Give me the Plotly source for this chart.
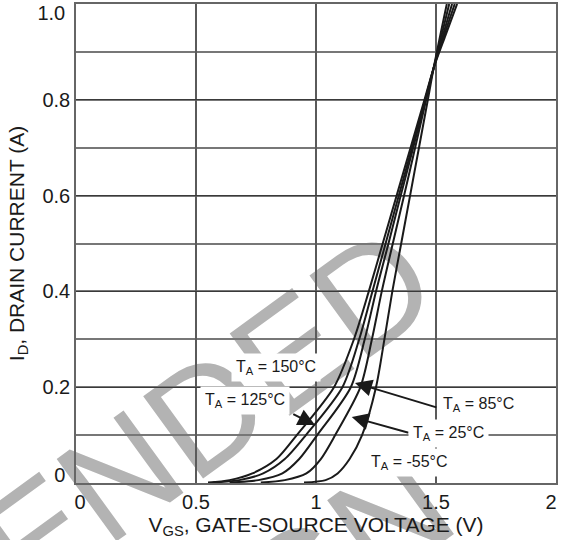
import plotly.graph_objects as go

# Transfer characteristics: drain current vs gate-source voltage at five ambient temperatures
vgs_150 = [0.55, 0.64, 0.735, 0.835, 0.92, 1.075, 1.158, 1.22, 1.278, 1.336, 1.394, 1.452, 1.49, 1.54, 1.588]
id_150 = [0.001, 0.006, 0.02, 0.05, 0.1, 0.2, 0.3, 0.4, 0.5, 0.6, 0.7, 0.8, 0.866, 0.935, 1.0]

vgs_125 = [0.57, 0.68, 0.78, 0.87, 0.958, 1.11, 1.18, 1.235, 1.29, 1.345, 1.4, 1.455, 1.49, 1.578]
id_125 = [0.001, 0.006, 0.02, 0.05, 0.1, 0.2, 0.3, 0.4, 0.5, 0.6, 0.7, 0.8, 0.866, 1.0]

vgs_85 = [0.64, 0.76, 0.86, 0.93, 1.005, 1.145, 1.203, 1.25, 1.302, 1.353, 1.405, 1.456, 1.49, 1.567]
id_85 = [0.001, 0.006, 0.02, 0.05, 0.1, 0.2, 0.3, 0.4, 0.5, 0.6, 0.7, 0.8, 0.866, 1.0]

vgs_25 = [0.77, 0.87, 0.96, 1.02, 1.08, 1.185, 1.233, 1.274, 1.32, 1.367, 1.413, 1.459, 1.49, 1.555]
id_25 = [0.001, 0.006, 0.02, 0.05, 0.1, 0.2, 0.3, 0.4, 0.5, 0.6, 0.7, 0.8, 0.866, 1.0]

vgs_m55 = [0.95, 1.04, 1.09, 1.14, 1.192, 1.25, 1.285, 1.318, 1.355, 1.392, 1.429, 1.466, 1.49, 1.545]
id_m55 = [0.001, 0.006, 0.02, 0.05, 0.1, 0.2, 0.3, 0.4, 0.5, 0.6, 0.7, 0.8, 0.866, 1.0]

# Inner tick labels on the main axes; the end labels sit on helper axes nudged inward
x_tick_vals = [0.5, 1, 1.5]
x_tick_text = ["0.5", "1", "1.5"]
y_tick_vals = [0.2, 0.4, 0.6, 0.8]
y_tick_text = ["0.2", "0.4", "0.6", "0.8"]
x_end_ticks = [(0, "0", 4), (2, "2", -5)]
y_end_ticks = [(0, "0", -8), (1.0, "1.0", 9)]

temp_labels = ["T<sub>A</sub> = 150°C", "T<sub>A</sub> = 125°C", "T<sub>A</sub> = 85°C",
               "T<sub>A</sub> = 25°C", "T<sub>A</sub> = -55°C"]

FONT = "Liberation Sans, Arial, sans-serif"
INK = "#1a1a1a"
FRAME = "#666666"
X_RANGE = [0, 2]
Y_RANGE = [0, 1.0]

fig = go.Figure()
for vx, iy, name in [(vgs_150, id_150, temp_labels[0]), (vgs_125, id_125, temp_labels[1]),
                     (vgs_85, id_85, temp_labels[2]), (vgs_25, id_25, temp_labels[3]),
                     (vgs_m55, id_m55, temp_labels[4])]:
    fig.add_trace(go.Scatter(x=vx, y=iy, mode="lines", name=name,
                             line=dict(color=INK, width=2, shape="spline", smoothing=0.8),
                             showlegend=False, hoverinfo="skip"))

# Obsolescence watermark behind the plot content
fig.add_shape(type="rect", xref="paper", yref="paper",
              x0=-0.493, x1=-0.491, y0=-0.622, y1=-0.620,
              line=dict(width=0), fillcolor="rgba(0,0,0,0)", layer="below",
              label=dict(text="NOT RECOMMENDED<br>FOR NEW DESIGN", textangle=-36,
                         textposition="middle center",
                         font=dict(family=FONT, size=148, color="#b3b3b3")))

# Arrows from labels to their curves
arrow_style = dict(showarrow=True, arrowhead=2, arrowsize=1.7, arrowwidth=2,
                   arrowcolor=INK, axref="x", ayref="y", xref="x", yref="y", text="")
fig.add_annotation(x=0.996, y=0.121, ax=0.899, ay=0.1455, **arrow_style)
fig.add_annotation(x=1.1625, y=0.209, ax=1.508, ay=0.157, **arrow_style)
fig.add_annotation(x=1.149, y=0.138, ax=1.392, ay=0.104, **arrow_style)

label_pos = [(0.833, 0.242), (0.704, 0.173), (1.679, 0.163), (1.55, 0.104), (1.3875, 0.042)]
for (lx, ly), txt in zip(label_pos, temp_labels):
    fig.add_annotation(x=lx, y=ly, xref="x", yref="y", text=txt, showarrow=False,
                       bgcolor="white", borderpad=4,
                       font=dict(family=FONT, size=16, color=INK))

tick_font = dict(family=FONT, size=20, color=INK)
axis_common = dict(showline=True, linecolor=FRAME, linewidth=1.5, mirror=True,
                   zeroline=False, ticks="", showgrid=True, automargin=False,
                   tickfont=tick_font)

fig.update_layout(
    xaxis=dict(range=X_RANGE, tickvals=x_tick_vals, ticktext=x_tick_text,
               gridcolor="#5a5a5a", gridwidth=1.5,
               title=dict(text="V<sub>GS</sub>, GATE-SOURCE VOLTAGE (V)", standoff=4,
                          font=dict(family=FONT, size=21, color=INK)),
               **axis_common),
    yaxis=dict(range=Y_RANGE, tickvals=y_tick_vals, ticktext=y_tick_text,
               gridcolor="#3a3a3a", gridwidth=1.3,
               minor=dict(dtick=0.1, showgrid=True, gridcolor="#777777", gridwidth=1.6),
               title=dict(text="I<sub>D</sub>, DRAIN CURRENT (A)", standoff=12,
                          font=dict(family=FONT, size=21, color=INK)),
               **axis_common),
)

helper = dict(showline=True, linecolor=FRAME, linewidth=1.5, showgrid=False,
              zeroline=False, ticks="", automargin=False, tickfont=tick_font,
              ticklabeloverflow="allow")
for i, (val, txt, shift) in enumerate(x_end_ticks):
    name = "xaxis%d" % (i + 2)
    fig.update_layout({name: dict(range=X_RANGE, overlaying="x", anchor="y", side="bottom",
                                  tickvals=[val], ticktext=[txt], ticklabelshift=shift,
                                  **helper)})
    fig.add_trace(go.Scatter(x=[], y=[], xaxis="x%d" % (i + 2), yaxis="y",
                             showlegend=False, hoverinfo="skip"))
for i, (val, txt, shift) in enumerate(y_end_ticks):
    name = "yaxis%d" % (i + 2)
    fig.update_layout({name: dict(range=Y_RANGE, overlaying="y", anchor="x", side="left",
                                  tickvals=[val], ticktext=[txt], ticklabelshift=shift,
                                  ticklabelstandoff=5, **helper)})
    fig.add_trace(go.Scatter(x=[], y=[], xaxis="x", yaxis="y%d" % (i + 2),
                             showlegend=False, hoverinfo="skip"))

fig.update_layout(width=561, height=540, margin=dict(l=76, r=5, t=4, b=57),
                  paper_bgcolor="white", plot_bgcolor="rgba(0,0,0,0)",
                  font=dict(family=FONT, color=INK))

fig.write_html("out.html")
